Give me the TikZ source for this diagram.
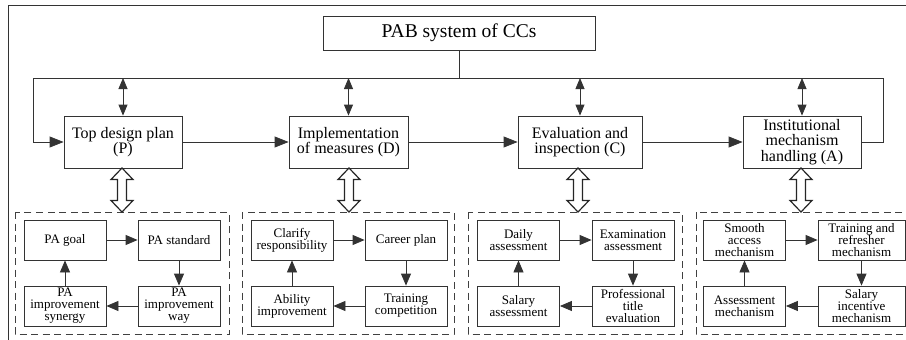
\documentclass[tikz,border=0pt]{standalone}
\usepackage{fontspec}
\setmainfont{Liberation Serif}
\usetikzlibrary{arrows.meta}
\begin{document}
\begin{tikzpicture}[x=1pt,y=-1pt,
  line width=0.8pt,
  color=black!80, text=black,
  mainbox/.style={draw=black!80, fill=white, align=center, inner sep=1pt,
    minimum height=52pt, font=\fontsize{16}{15.5}\selectfont},
  inbox/.style={draw=black!80, fill=white, align=center, inner sep=1pt,
    minimum width=82pt, minimum height=40pt, font=\fontsize{13}{12}\selectfont},
  grp/.style={draw=black!75, dash pattern=on 7pt off 4.5pt, line width=0.8pt},
  arr/.style={-{Triangle[length=14pt,width=11pt]}},
  darr/.style={{Triangle[length=11pt,width=9pt]}-{Triangle[length=11pt,width=9pt]}},
  iarr/.style={-{Triangle[length=12pt,width=10pt]}},
  hollow/.pic={\draw[line width=1.2pt, draw=black!85, fill=white]
    (0,0) -- (11,11.5) -- (4.5,11.5) -- (4.5,32.5) -- (11,32.5) -- (0,44)
    -- (-11,32.5) -- (-4.5,32.5) -- (-4.5,11.5) -- (-11,11.5) -- cycle;}
]
\useasboundingbox (0,0) rectangle (906,340);
\clip (0,0) rectangle (906,340);
% outer frame (cropped)
\draw (8,360) -- (8,5) -- (930,5);

% title
\node[draw=black!80, minimum width=272pt, minimum height=34pt,
  font=\fontsize{19.5}{20}\selectfont] (pab) at (459,33) {PAB system of CCs};

% main boxes
\node[mainbox, minimum width=118pt] (P) at (123,142) {Top design plan\\(P)};
\node[mainbox, minimum width=119pt] (D) at (348.5,142) {Implementation\\of measures (D)};
\node[mainbox, minimum width=124pt] (C) at (580,142) {Evaluation and\\inspection (C)};
\node[mainbox, minimum width=118pt] (A) at (802,142) {Institutional\\mechanism\\handling (A)};

% bus
\coordinate (busL) at (33,78);
\coordinate (busR) at (883,78);
\draw (pab.south) -- (pab.south |- busL);
\draw (busR) -- (busL) -- (busL |- P.west);
\draw[arr] (busL |- P.west) -- (P.west);
\draw (A.east) -- (busR |- A.east) -- (busR);
\foreach \n in {P,D,C,A}{
  \draw[darr] (\n.north |- busL) -- (\n.north);
}
\draw[arr] (P.east) -- (D.west);
\draw[arr] (D.east) -- (C.west);
\draw[arr] (C.east) -- (A.west);

% dashed groups
\draw[grp] (15,212) rectangle (229,334);
\draw[grp] (242,212) rectangle (454,334);
\draw[grp] (468,212) rectangle (682,334);
\draw[grp] (696,212) rectangle (930,334);

% hollow double arrows
\foreach \xx in {122,349,578,801}{
  \pic at (\xx,168) {hollow};
}

% group 1
\node[inbox] (g1a) at (65,240) {PA goal};
\node[inbox] (g1b) at (179,240) {PA standard};
\node[inbox] (g1c) at (179,306) {PA\\improvement\\way};
\node[inbox] (g1d) at (65,306) {PA\\improvement\\synergy};
% group 2
\node[inbox] (g2a) at (292,240) {Clarify\\responsibility};
\node[inbox] (g2b) at (406,240) {Career plan};
\node[inbox] (g2c) at (406,306) {Training\\competition};
\node[inbox] (g2d) at (292,306) {Ability\\improvement};
% group 3
\node[inbox] (g3a) at (518.5,240) {Daily\\assessment};
\node[inbox] (g3b) at (633,240) {Examination\\assessment};
\node[inbox] (g3c) at (633,306) {Professional\\title\\evaluation};
\node[inbox] (g3d) at (518.5,306) {Salary\\assessment};
% group 4
\node[inbox] (g4a) at (744.5,240) {Smooth\\access\\mechanism};
\node[inbox, minimum width=87pt] (g4b) at (861.5,240) {Training and\\refresher\\mechanism};
\node[inbox, minimum width=87pt] (g4c) at (861.5,306) {Salary\\incentive\\mechanism};
\node[inbox] (g4d) at (744.5,306) {Assessment\\mechanism};

\foreach \g in {g1,g2,g3,g4}{
  \draw[iarr] (\g a.east) -- (\g b.west);
  \draw[iarr] (\g b.south) -- (\g c.north);
  \draw[iarr] (\g c.west) -- (\g d.east);
  \draw[iarr] (\g d.north) -- (\g a.south);
}
\end{tikzpicture}
\end{document}
